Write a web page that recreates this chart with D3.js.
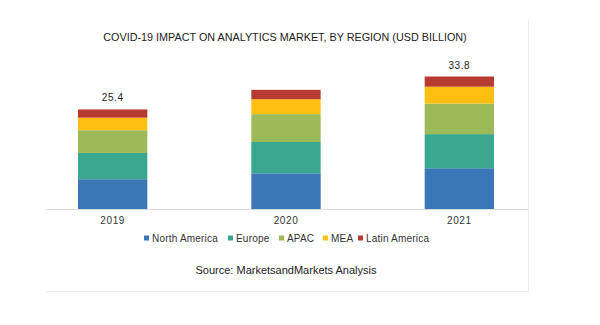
<!DOCTYPE html>
<html lang="en">

<head>
  <meta charset="UTF-8" />
  <script src="https://cdn.jsdelivr.net/npm/d3@7"></script>
  <title>Analytics market by region</title>
  <style>
    body { margin: 0; background: #fff; }
    text { font-family: "Liberation Sans", Arial, sans-serif; }
  </style>
</head>

<body>
  <svg width="600" height="325"></svg>
  <script>
    const years = ["2019", "2020", "2021"];
    const regions = ["North America", "Europe", "APAC", "MEA", "Latin America"];
    const northAmerica = [7.6, 9.1, 10.4];
    const europe = [6.7, 8.0, 8.7];
    const apac = [5.8, 7.1, 7.8];
    const mea = [3.2, 3.8, 4.3];
    const latinAmerica = [2.1, 2.4, 2.6];
    const labelledYears = ["2019", "2021"];
    const colors = ["#3b77b6", "#3aa88f", "#9cba58", "#fdc010", "#b83b32"];

    const svg = d3.select("svg");

    const table = years.map((year, i) => ({
      year,
      "North America": northAmerica[i],
      "Europe": europe[i],
      "APAC": apac[i],
      "MEA": mea[i],
      "Latin America": latinAmerica[i]
    }));

    const stack = d3.stack().keys(regions)(table);

    const x = d3.scaleBand()
      .domain(years)
      .range([26, 546])
      .paddingInner(0.6)
      .paddingOuter(0.3);

    const y = d3.scaleLinear()
      .domain([0, 35])
      .range([209, 71.8]);

    const color = d3.scaleOrdinal().domain(regions).range(colors);

    // light frame on the right and bottom
    svg.append("path")
      .attr("d", "M528.5,20V291.5H46")
      .attr("fill", "none")
      .attr("stroke", "#ececec");

    svg.append("text")
      .attr("x", 285)
      .attr("y", 41)
      .attr("text-anchor", "middle")
      .attr("font-size", 10.8)
      .attr("fill", "#222")
      .text("COVID-19 IMPACT ON ANALYTICS MARKET, BY REGION (USD BILLION)");

    svg.append("g")
      .selectAll("g")
      .data(stack)
      .join("g")
      .attr("fill", d => color(d.key))
      .selectAll("rect")
      .data(d => d)
      .join("rect")
      .attr("x", d => x(d.data.year))
      .attr("width", x.bandwidth())
      .attr("y", d => y(d[1]))
      .attr("height", d => y(d[0]) - y(d[1]));

    // baseline
    svg.append("line")
      .attr("x1", 46).attr("x2", 528)
      .attr("y1", y(0) + 0.5).attr("y2", y(0) + 0.5)
      .attr("stroke", "#dcdcdc");

    const xAxis = svg.append("g")
      .attr("transform", `translate(0,${y(0)})`)
      .call(d3.axisBottom(x).tickSize(0).tickPadding(8));
    xAxis.select(".domain").remove();
    xAxis.selectAll("text")
      .attr("font-size", 10)
      .attr("letter-spacing", 0.6)
      .attr("fill", "#333")
      .style("font-family", "'Liberation Sans', Arial, sans-serif");

    // totals above the first and last bars
    const totals = table.map(d => ({ year: d.year, total: d3.sum(regions, r => d[r]) }));
    svg.append("g")
      .selectAll("text")
      .data(totals.filter(d => labelledYears.includes(d.year)))
      .join("text")
      .attr("x", d => x(d.year) + x.bandwidth() / 2)
      .attr("y", d => y(d.total) - 8)
      .attr("text-anchor", "middle")
      .attr("font-size", 10)
      .attr("letter-spacing", 0.6)
      .attr("fill", "#222")
      .text(d => d.total.toFixed(1));

    // legend
    const legendX = [144, 228, 279, 323, 358];
    const legend = svg.append("g")
      .selectAll("g")
      .data(regions)
      .join("g")
      .attr("transform", (d, i) => `translate(${legendX[i]},238)`);
    legend.append("rect")
      .attr("x", 0).attr("y", -2.5)
      .attr("width", 5).attr("height", 5)
      .attr("fill", d => color(d));
    legend.append("text")
      .attr("x", 8)
      .attr("y", 3.5)
      .attr("font-size", 10)
      .attr("letter-spacing", 0.2)
      .attr("fill", "#333")
      .text(d => d);

    svg.append("text")
      .attr("x", 286)
      .attr("y", 274)
      .attr("text-anchor", "middle")
      .attr("font-size", 11)
      .attr("fill", "#222")
      .text("Source: MarketsandMarkets Analysis");
  </script>
</body>

</html>
